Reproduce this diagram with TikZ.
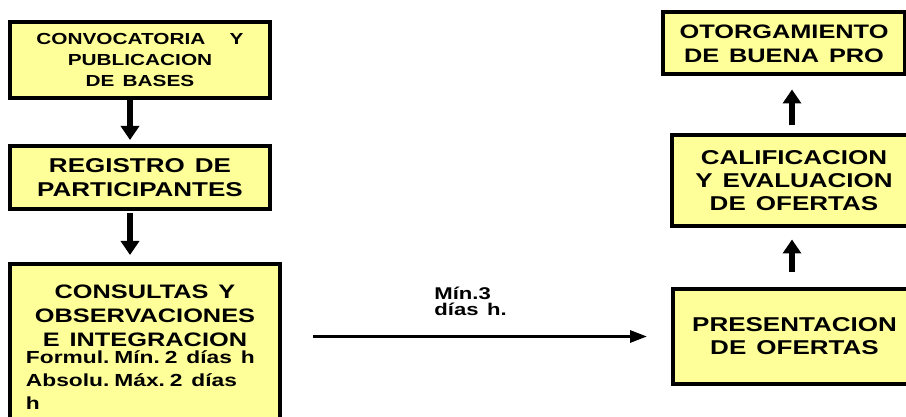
\documentclass[tikz,border=0pt]{standalone}
\usepackage{fontspec}
\newfontfamily\diagfont{Liberation Sans}[FakeStretch=1.3, WordSpace=1.4]
\usepackage{tikz}
\usetikzlibrary{arrows.meta}
\definecolor{boxyellow}{RGB}{255,255,153}

\begin{document}
\begin{tikzpicture}[x=1pt, y=-1pt,
        paso/.style={draw=black, line width=4pt, fill=boxyellow, inner sep=0pt, align=center},
        flecha/.style={line width=5.5pt, -{Triangle[width=18pt,length=14pt]}},
        linea/.style={line width=3pt, -{Triangle[width=12pt,length=17pt]}},
        etiqueta/.style={inner sep=0pt, outer sep=0pt, align=left, font=\diagfont\bfseries\fontsize{17}{16}\selectfont}]
        \useasboundingbox (0, 0) rectangle (906, 417);

        \node[paso, font=\diagfont\bfseries\fontsize{16}{21}\selectfont, minimum width=260pt, minimum height=76pt] (P1) at (140, 60) {CONVOCATORIA\ \ \ Y\\PUBLICACION\\DE BASES};
        \node[paso, font=\diagfont\bfseries\fontsize{20}{24}\selectfont, minimum width=260pt, minimum height=63pt] (P2) at (140, 177.5) {REGISTRO DE\\PARTICIPANTES};
        \node[paso, font=\diagfont\bfseries, text width=238pt, inner xsep=16pt, minimum height=166pt, align=left] (P3) at (145, 347) {{\centering\fontsize{19.5}{24}\selectfont\spaceskip=0pt CONSULTAS Y\\OBSERVACIONES\\E INTEGRACION\par}\vspace{-6pt}{\raggedright\fontsize{17.5}{23}\selectfont\spaceskip=0pt Formul. Mín. 2 días h\\Absolu. Máx. 2 días\\h\par}};

        \node[paso, font=\diagfont\bfseries\fontsize{20}{23}\selectfont, minimum width=243pt, minimum height=95pt] (P4) at (794.5, 336.5) {PRESENTACION\\DE OFERTAS};
        \node[paso, font=\diagfont\bfseries\fontsize{20}{23}\selectfont, minimum width=244pt, minimum height=91pt] (P5) at (794, 181) {CALIFICACION\\Y EVALUACION\\DE OFERTAS};
        \node[paso, font=\diagfont\bfseries\fontsize{19.5}{24}\selectfont, minimum width=242pt, minimum height=62pt] (P6) at (784, 43.5) {OTORGAMIENTO\\DE BUENA PRO};

        \draw[flecha, shorten >=4pt] ([xshift=-10pt]P1.south) -- ([xshift=-10pt]P1.south |- P2.north);
        \draw[flecha, shorten <=2pt, shorten >=7pt] ([xshift=-10pt]P2.south) -- ([xshift=-10pt]P2.south |- P3.north);
        \draw[linea, shorten <=31pt, shorten >=24pt] (P3.east |- P4.west) -- node[etiqueta, pos=.485, above=21pt] (N1) {Mín.3\\días h.} (P4.west);
        \draw[flecha, shorten <=15pt, shorten >=11pt] ([xshift=-2.5pt]P4.north) -- ([xshift=-2.5pt]P4.north |- P5.south);
        \draw[flecha, shorten <=8pt, shorten >=13pt] ([xshift=-2pt]P5.north) -- ([xshift=-2pt]P5.north |- P6.south);
    \end{tikzpicture}
\end{document}
